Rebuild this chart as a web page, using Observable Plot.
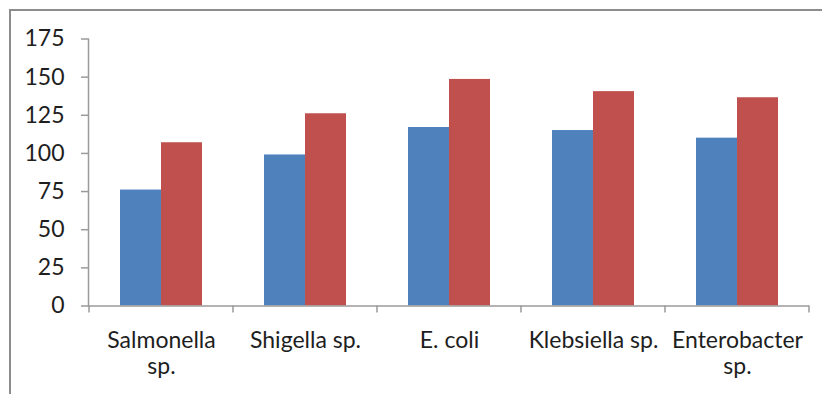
<!DOCTYPE html>
<html>
<head>
<meta charset="utf-8">
<script src="https://cdn.jsdelivr.net/npm/d3@7"></script>
<script src="https://cdn.jsdelivr.net/npm/@observablehq/plot@0.6"></script>
<style>
  html, body { margin: 0; padding: 0; background: #fff; overflow: hidden; }
  #wrap { position: relative; width: 822px; height: 394px; overflow: hidden; }
  #border { position: absolute; left: 9px; top: 9px; width: 900px; height: 500px;
            border-left: 2px solid #8c8c8c; border-top: 2px solid #8c8c8c; box-sizing: border-box; }
  #chart { position: absolute; left: 0; top: 0; }
  #chart svg { display: block; }
</style>
</head>
<body>
<div id="wrap">
  <div id="border"></div>
  <div id="chart"></div>
</div>
<script>
// ---- data ----
const categories = ["Salmonella sp.", "Shigella sp.", "E. coli", "Klebsiella sp.", "Enterobacter sp."];
const tickLabels = ["Salmonella\nsp.", "Shigella sp.", "E. coli", "Klebsiella sp.", "Enterobacter\nsp."];
const seriesBlue = [76, 99, 117, 115, 110];
const seriesRed = [107, 126, 148.5, 140.5, 136.5];
const yTicks = [0, 25, 50, 75, 100, 125, 150, 175];

// ---- styles ----
const BLUE = "#4F81BD";
const RED = "#C0504D";
const AXIS = "#9a9a9a";
const TEXT = "#1e1e1e";
const FONT = "Lato, 'Open Sans', sans-serif";
const FS = 23;
const TICK = 7;

const blueRows = categories.map((c, i) => ({category: c, value: seriesBlue[i]}));
const redRows = categories.map((c, i) => ({category: c, value: seriesRed[i]}));

// boundary ticks below the x axis, computed from the library's x scale
function boundaryTicks(index, scales, values, dimensions) {
  const x = scales.x, y = scales.y;
  const bw = typeof x.bandwidth === "function" ? x.bandwidth() : x.bandwidth;
  let starts = categories.map(c => x(c));
  if (Math.abs(starts[0] - dimensions.marginLeft) > bw / 4) starts = starts.map(s => s - bw / 2);
  const edges = starts.concat([starts[starts.length - 1] + bw]);
  const y0 = y(0);
  const g = d3.create("svg:g").attr("stroke", AXIS).attr("stroke-width", 1.5);
  g.selectAll("line").data(edges).join("line")
    .attr("x1", d => d).attr("x2", d => d)
    .attr("y1", y0).attr("y2", y0 + TICK);
  return g.node();
}

const chart = Plot.plot({
  width: 822,
  height: 394,
  marginLeft: 88,
  marginRight: 13,
  marginTop: 38.5,
  marginBottom: 88.5,
  style: {fontFamily: FONT, fontSize: FS + "px", color: TEXT, background: "transparent"},
  x: {domain: categories, padding: 0, label: null},
  y: {domain: [0, 175], label: null},
  marks: [
    Plot.barY(blueRows, {x: "category", y: "value", fill: BLUE, insetLeft: 31, insetRight: 72}),
    Plot.barY(redRows, {x: "category", y: "value", fill: RED, insetLeft: 72, insetRight: 31}),
    Plot.frame({anchor: "left", stroke: AXIS, strokeWidth: 1.5}),
    Plot.ruleY([0], {stroke: AXIS, strokeWidth: 1.5}),
    boundaryTicks,
    Plot.axisY({ticks: yTicks, tickSize: TICK, tickPadding: 17, stroke: AXIS, strokeWidth: 1.5, fill: TEXT, fontSize: FS}),
    Plot.axisX({tickSize: 0, tickPadding: 23, fill: TEXT, fontSize: FS, lineHeight: 1.14,
                tickFormat: d => tickLabels[categories.indexOf(d)]})
  ]
});
document.getElementById("chart").appendChild(chart);
</script>
</body>
</html>
